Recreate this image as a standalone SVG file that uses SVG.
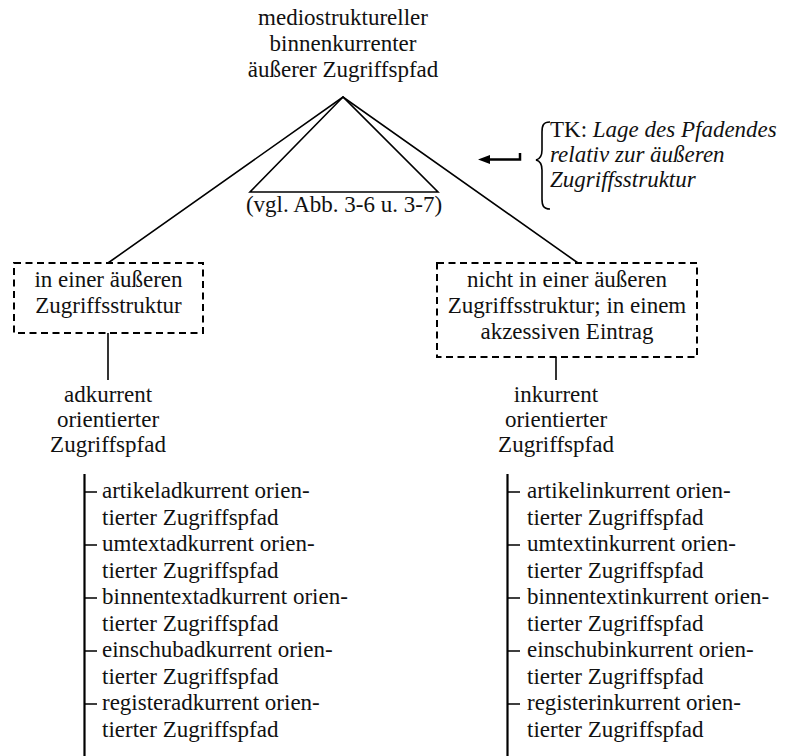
<svg xmlns="http://www.w3.org/2000/svg" width="790" height="756" viewBox="0 0 790 756">
<defs>
<style>
text{font-family:'Liberation Serif','Times New Roman',serif;font-size:23px;fill:#111}
.c{text-anchor:middle}
.i{font-style:italic}
.ln{stroke:#000;stroke-width:1.6;fill:none}
.bx{stroke:#000;stroke-width:2;fill:none;stroke-dasharray:7 4.5}
.vl{stroke:#000;stroke-width:2.2;fill:none}
</style>
</defs>
<rect width="790" height="756" fill="#fff"/>
<g id="connectors">
<path class="ln" d="M108,263 L343,97 L578,263"/>
<path class="ln" d="M343,97 L250,192 L438,192 Z"/>
<line class="ln" x1="108" y1="333" x2="108" y2="380"/>
<line class="ln" x1="556" y1="357" x2="556" y2="380"/>
<path d="M520,153 L520,159.5 L488,159.5" stroke="#000" stroke-width="2.5" fill="none"/>
<path d="M478,159.5 L490,155 L490,164 Z" fill="#000"/>
</g>
<g id="root">
<text class="c" x="343" y="25">mediostruktureller</text>
<text class="c" x="343" y="51">binnenkurrenter</text>
<text class="c" x="343" y="77">äußerer Zugriffspfad</text>
</g>
<g id="ref">
<text class="c" x="344" y="212">(vgl. Abb. 3-6 u. 3-7)</text>
</g>
<g id="tk">
<path class="ln" d="M550,122 C543,122 542,126 542,132 L542,150 C542,156 540,159 536,160 C540,161 542,164 542,170 L542,199 C542,205 543,209 550,209"/>
<text x="550" y="137">TK: <tspan class="i">Lage des Pfadendes</tspan></text>
<text class="i" x="550" y="162">relativ zur äußeren</text>
<text class="i" x="550" y="187">Zugriffsstruktur</text>
</g>
<g id="box-left">
<rect class="bx" x="14" y="263" width="189" height="70"/>
<text class="c" x="108.5" y="287">in einer äußeren</text>
<text class="c" x="108.5" y="313">Zugriffsstruktur</text>
</g>
<g id="box-right">
<rect class="bx" x="437" y="263" width="260" height="94"/>
<text class="c" x="567" y="287">nicht in einer äußeren</text>
<text class="c" x="567" y="313">Zugriffsstruktur; in einem</text>
<text class="c" x="567" y="339">akzessiven Eintrag</text>
</g>
<g id="adkurrent">
<text class="c" x="108" y="402">adkurrent</text>
<text class="c" x="108" y="427">orientierter</text>
<text class="c" x="108" y="452">Zugriffspfad</text>
</g>
<g id="inkurrent">
<text class="c" x="556" y="402">inkurrent</text>
<text class="c" x="556" y="427">orientierter</text>
<text class="c" x="556" y="452">Zugriffspfad</text>
</g>
<g id="list-left">
<line class="vl" x1="84.5" y1="474" x2="84.5" y2="756"/>
<path class="ln" d="M84.5,492 H97 M84.5,545 H97 M84.5,598 H97 M84.5,651 H97 M84.5,704 H97"/>
<text x="102" y="498">artikeladkurrent orien-</text>
<text x="102" y="524.5">tierter Zugriffspfad</text>
<text x="102" y="551">umtextadkurrent orien-</text>
<text x="102" y="577.5">tierter Zugriffspfad</text>
<text x="102" y="604">binnentextadkurrent orien-</text>
<text x="102" y="630.5">tierter Zugriffspfad</text>
<text x="102" y="657">einschubadkurrent orien-</text>
<text x="102" y="683.5">tierter Zugriffspfad</text>
<text x="102" y="710">registeradkurrent orien-</text>
<text x="102" y="736.5">tierter Zugriffspfad</text>
</g>
<g id="list-right">
<line class="vl" x1="507.5" y1="474" x2="507.5" y2="756"/>
<path class="ln" d="M507.5,492 H520 M507.5,545 H520 M507.5,598 H520 M507.5,651 H520 M507.5,704 H520"/>
<text x="527" y="498">artikelinkurrent orien-</text>
<text x="527" y="524.5">tierter Zugriffspfad</text>
<text x="527" y="551">umtextinkurrent orien-</text>
<text x="527" y="577.5">tierter Zugriffspfad</text>
<text x="527" y="604">binnentextinkurrent orien-</text>
<text x="527" y="630.5">tierter Zugriffspfad</text>
<text x="527" y="657">einschubinkurrent orien-</text>
<text x="527" y="683.5">tierter Zugriffspfad</text>
<text x="527" y="710">registerinkurrent orien-</text>
<text x="527" y="736.5">tierter Zugriffspfad</text>
</g>
</svg>
